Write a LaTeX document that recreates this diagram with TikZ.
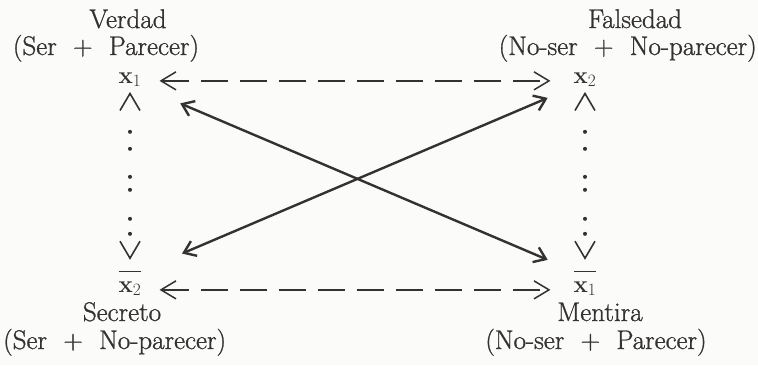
\documentclass[tikz,border=0pt]{standalone}
\usepackage{fontspec}
\setmainfont{Latin Modern Roman}[UprightFeatures={FakeBold=1}]
\usepackage{tikz}
\usetikzlibrary{arrows.meta}
\definecolor{ink}{RGB}{52,50,48}
\definecolor{paper}{RGB}{251,251,249}

\begin{document}
\begin{tikzpicture}[
      x=1pt, y=-1pt,
      every node/.style = {inner sep=0pt, text=ink, anchor=base,
                           font=\fontsize{27}{31}\selectfont},
      var/.style = {font=\fontsize{24}{28}\selectfont},
      chev/.tip = {Straight Barb[length=15pt, width=18pt, line width=1.5pt]},
      wedge/.tip = {Straight Barb[length=17pt, width=20pt, line width=1.6pt]},
      opp/.style = {draw=ink, line width=2pt, dash pattern=on 27pt off 12pt,
                    chev-chev},
      sub/.style = {draw=ink, line width=4pt, line cap=round,
                    dash pattern=on 0pt off 38pt on 0pt off 17pt on 0pt off 28pt
                                 on 0pt off 13pt on 0pt off 29pt on 0pt off 15pt
                                 on 0pt off 200pt,
                    dash phase=0.5pt, wedge-wedge},
      cross/.style = {draw=ink, line width=2.4pt,
                      {Straight Barb[length=11pt, width=16pt]}-{Straight Barb[length=11pt, width=16pt]}}
    ]
    \fill[paper] (0,0) rectangle (758,365);
    \useasboundingbox (0,0) rectangle (758,365);

    % the four terms
    \node[var] (x1)  at (130,83)  {$\mathbf{x}_1$};
    \node[var] (x2)  at (585,83)  {$\mathbf{x}_2$};
    \node[var] (xb2) at (130,292) {$\overline{\rule{0pt}{19pt}\mathbf{x}_2}$};
    \node[var] (xb1) at (585,292) {$\overline{\rule{0pt}{19pt}\mathbf{x}_1}$};

    % labels
    \node (ver)  at (128,28)  {Verdad};
    \node (verp) at (106,55)  {(Ser~~+~~Parecer)};
    \node (fal)  at (635,28)  {Falsedad};
    \node (falp) [anchor=base east] at (757,55) {(No-ser~~+~~No-parecer)};
    \node (sec)  at (122,321) {Secreto};
    \node (secp) [anchor=base west] at (3,349) {(Ser~~+~~No-parecer)};
    \node (men)  at (600,321) {Mentira};
    \node (menp) at (596,349) {(No-ser~~+~~Parecer)};

    % contrarios y subcontrarios
    \draw[opp] (x1.mid east)  -- (x2.mid west)  [shorten <=18pt, shorten >=23pt];
    \draw[opp] (xb2.mid east) -- (xb1.mid west) [shorten <=18pt, shorten >=23pt];

    % implicaciones
    \draw[sub] (x1.south) -- (xb2.north) [shorten <=5pt, shorten >=11pt];
    \draw[sub] (x2.south) -- (xb1.north) [shorten <=5pt, shorten >=11pt];

    % contradictorios
    \draw[cross] (x1.south east) -- (xb1.north west) [shorten <=42pt, shorten >=28pt];
    \draw[cross] (x2.south west) -- (xb2.north east) [shorten <=28pt, shorten >=44pt];
  \end{tikzpicture}
\end{document}
